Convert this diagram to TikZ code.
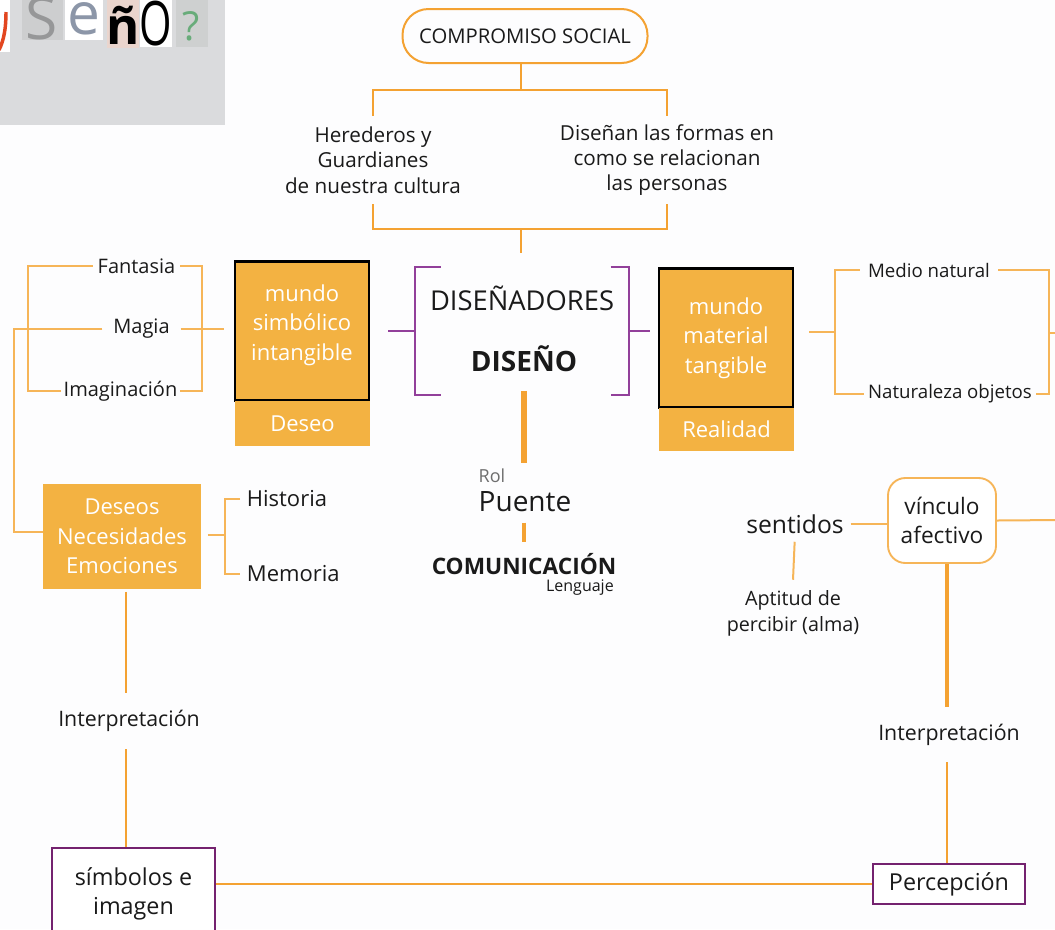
\documentclass[tikz,border=0pt]{standalone}
\usepackage{fontspec}
\setmainfont{Open Sans}
\usetikzlibrary{calc}
\definecolor{orfill}{HTML}{F3B242}
\definecolor{orline}{HTML}{F4A232}
\definecolor{orlight}{HTML}{F6B558}
\definecolor{purp}{HTML}{92409A}
\definecolor{purpdark}{HTML}{74226F}
\definecolor{ink}{HTML}{1A1A1A}
\definecolor{soft}{HTML}{6E6E6E}
\definecolor{pagebg}{HTML}{FDFDFE}
\definecolor{photo}{HTML}{DADBDD}
\definecolor{cutred}{RGB}{226,70,32}
\definecolor{patchS}{RGB}{205,206,207}
\definecolor{letterS}{RGB}{150,151,152}
\definecolor{letterE}{RGB}{140,150,168}
\definecolor{patchN}{RGB}{234,213,205}
\definecolor{patchQ}{RGB}{206,208,208}
\definecolor{letterQ}{RGB}{104,172,122}
\newcommand\fs[2]{\fontsize{#1}{#2}\selectfont}
\begin{document}
\begin{tikzpicture}[x=0.75pt,y=-0.75pt,
  every node/.style={inner sep=0pt, text=ink, align=center},
  wpx/.style={minimum width=#1*0.75pt},
  hpx/.style={minimum height=#1*0.75pt},
  orthick/.style={draw=orline, line width=2.2pt},
  ormid/.style={draw=orline, line width=1.9pt},
  orthin/.style={draw=orlight, line width=1.5pt},
  purpline/.style={draw=purp, line width=1.6pt},
  obox/.style={fill=orfill, text=white, font=\fs{16.5}{22}},
  pbox/.style={draw=purpdark, line width=2pt, fill=white, font=\fs{17.5}{22}},
  lbl/.style={font=\fs{15.5}{19}},
  side/.style={font=\fs{15}{18}, inner xsep=3.5pt},
]
% page
\fill[pagebg] (0,0) rectangle (1055,929);
\useasboundingbox (0,0) rectangle (1055,929);

% cut-out letters photo in the corner
\begin{scope}
  \clip (0,0) rectangle (225,125);
  \fill[photo] (0,0) rectangle (225,125);
  \fill[white] (-2,0) rectangle (10,52);
  \draw[cutred, line width=2.6pt] (6,12) .. controls (6,28) and (4,40) .. (-1,50);
  \fill[patchS] (22,0) rectangle (63,40);
  \node[anchor=base, text=letterS, font=\fs{44}{44}] (lS) at (42,39) {S};
  \fill[white] (65,0) rectangle (103,40);
  \node[anchor=base, text=letterE, font=\fs{44}{44}] (le) at (84,34) {e};
  \fill[patchN] (107,0) rectangle (139,48);
  \node[anchor=base, text=black, font=\bfseries\fs{38}{38}] (ln) at (123,44) {ñ};
  \fill[white] (140,0) rectangle (172,47);
  \node[anchor=base, text=black, font=\fs{46}{46}] (lo) at (156,45) {\scalebox{0.68}[1]{O}};
  \fill[patchQ] (176,0) rectangle (208,47);
  \node[anchor=base, text=letterQ, font=\fs{30}{30}] (lq) at (191,40) {?};
\end{scope}

% ---------- top: social commitment ----------
\node[draw=orline, line width=1.5pt, rounded corners=19.5pt, wpx=245, hpx=54,
      font=\fs{15.2}{16}] (comp) at (525,36) {COMPROMISO SOCIAL};
\node[lbl, hpx=88] (her) at (373,160) {Herederos y\\Guardianes\\de nuestra cultura};
\node[lbl, hpx=88] (dis) at (667,160) {Diseñan las formas en\\como se relacionan\\las personas};
\coordinate (tA) at (521,90);
\coordinate (tL) at (373,90);
\coordinate (tR) at (667,90);
\coordinate (bL) at (373,229);
\coordinate (bR) at (667,229);
\coordinate (bA) at (521,229);
\coordinate (bEnd) at (521,253);
\draw[orthick] (comp.south -| tA) -- (tA);
\draw[orthick] (her.north) -- (tL) -- (tR) -- (dis.north);
\draw[orthick] (her.south) -- (bL) -- (bR) -- (dis.south);
\draw[orthick] (bA) -- (bEnd);

% ---------- centre: designers ----------
\node[wpx=214, hpx=127] (core) at (522,331) {};
\node[font=\fs{20.5}{24}] (disenadores) at (522,298) {DISEÑADORES};
\node[font=\bfseries\fs{21}{24}] (diseno) at (524,359) {DISEÑO};
\draw[purpline] ([xshift=19.5pt]core.north west) -- (core.north west) -- (core.south west) -- ([xshift=19.5pt]core.south west);
\draw[purpline] ([xshift=-14pt]core.north east) -- (core.north east) -- (core.south east) -- ([xshift=-14pt]core.south east);

% ---------- symbolic world ----------
\node[fill=orfill, draw=black, line width=2.2pt, wpx=134, hpx=139] (simb) at (302,331) {};
\node[text=white, font=\fs{16.5}{22}] (simbt) at (302,325) {mundo\\simbólico\\intangible};
\node[obox, wpx=135, hpx=45] (deseo) at (302.5,423.5) {Deseo};
\draw[purpline, shorten >=13.5pt] (core.west) -- (core.west -| simb.east);

% ---------- material world ----------
\node[obox, draw=black, line width=2.2pt, wpx=134, hpx=139] (mat) at (726,338) {mundo\\material\\tangible};
\node[obox, wpx=135, hpx=43] (real) at (726.5,429.5) {Realidad};
\draw[purpline, shorten >=6pt] (core.east) -- (core.east -| mat.west);

% ---------- bridge ----------
\node[align=left, font=\fs{21}{22}] (puente) at (525,490) {{\color{soft}\fs{13.5}{14}Rol}\\Puente};
\node[font=\bfseries\fs{17}{18}] (comun) at (524,564) {COMUNICACIÓN};
\node[font=\fs{12}{14}, anchor=north east] (leng) at (614,579) {Lenguaje};
\draw[draw=orline, line width=5.2pt, shorten <=-3pt, shorten >=4pt] (core.south -| diseno) -- (puente.north -| diseno);
\draw[draw=orline, line width=3.6pt, shorten <=8pt, shorten >=8pt] (puente.south -| diseno) -- (comun.north -| diseno);

% ---------- left bracket tree ----------
\node[side] (fan) at (136.5,266) {Fantasia};
\node[side, inner xsep=8pt] (mag) at (141.5,329) {Magia};
\node[side, inner xsep=1.5pt] (ima) at (120.5,391) {Imaginación};
\coordinate (lx) at (28,329);
\coordinate (rx) at (202,329);
\draw[orthin] (fan.west) -| (lx) |- (ima.west);
\draw[orthin] (fan.east) -| (rx) |- (ima.east);
\draw[orthin, shorten >=7.5pt] (mag.east) -- (mag.east -| simb.west);

% ---------- wishes ----------
\node[obox, wpx=158, hpx=105] (des) at (122,536.5) {Deseos\\Necesidades\\Emociones};
\coordinate (dcorner) at (14,532);
\draw[orthin] (mag.west) -| (dcorner) -- (dcorner -| des.west);
\node[font=\fs{16.5}{18}, inner xsep=5pt, anchor=west] (his) at (240,499) {Historia};
\node[font=\fs{16.5}{18}, inner xsep=5pt, anchor=west] (mem) at (240,574) {Memoria};
\coordinate (hj) at (225,535);
\draw[orthin, shorten <=5pt] (des.east |- hj) -- (hj);
\draw[orthin] (his.west) -| (hj) |- (mem.west);

% ---------- left column down ----------
\node[font=\fs{16}{18}, hpx=56] (intl) at (129,721) {Interpretación};
\draw[orthick, shorten <=2pt] (des.south -| 126,0) -- (intl.north -| 126,0);
\node[pbox, wpx=163, hpx=92] (sym) at (133.5,894) {símbolos e\\imagen};
\draw[orthick] (intl.south -| 126,0) -- (sym.north -| 126,0);

% ---------- right bracket tree ----------
\node[font=\fs{14}{16}, inner xsep=6pt] (med) at (929,270) {Medio natural};
\node[font=\fs{14}{16}, inner xsep=3pt] (nat) at (950,394) {Naturaleza objetos};
\coordinate (rbl) at (835,332);
\coordinate (rbr) at (1049,333);
\coordinate (rout) at (1060,333);
\draw[orthin] (med.west) -| (rbl) |- (nat.west);
\draw[orthin] (med.east) -| (rbr) |- (nat.east);
\draw[orthin, shorten >=11pt] (rbl) -- (rbl -| mat.east);
\draw[orthin] (rbr) -- (rout);

% ---------- affective link ----------
\node[draw=orlight, line width=1.4pt, fill=white, rounded corners=13pt, wpx=108, hpx=85,
      font=\fs{17}{22}] (vin) at (942,520.5) {vínculo\\afectivo};
\node[font=\fs{18.5}{20}, inner xsep=5pt] (sen) at (795,524) {sentidos};
\node[font=\fs{14.8}{19.5}, hpx=66] (apt) at (793,613) {Aptitud de\\percibir (alma)};
\coordinate (vout) at (1060,520);
\draw[orthin] (sen.east) -- (sen.east -| vin.west);
\draw[orthin] (vin.east) -- (vout);
\draw[orthin, shorten <=6pt] (sen.south) -- (apt.north);

% ---------- right column down ----------
\node[font=\fs{16}{18}, hpx=55] (intr) at (949,734.5) {Interpretación};
\node[pbox, wpx=152, hpx=40] (perc) at (949,884) {Percepción};
\draw[draw=orline, line width=2.8pt] (vin.south -| 947,0) -- (intr.north -| 947,0);
\draw[orthick] (intr.south -| 947,0) -- (perc.north -| 947,0);

% ---------- bottom link ----------
\draw[ormid] (perc.west) -- (perc.west -| sym.east);
\end{tikzpicture}
\end{document}
